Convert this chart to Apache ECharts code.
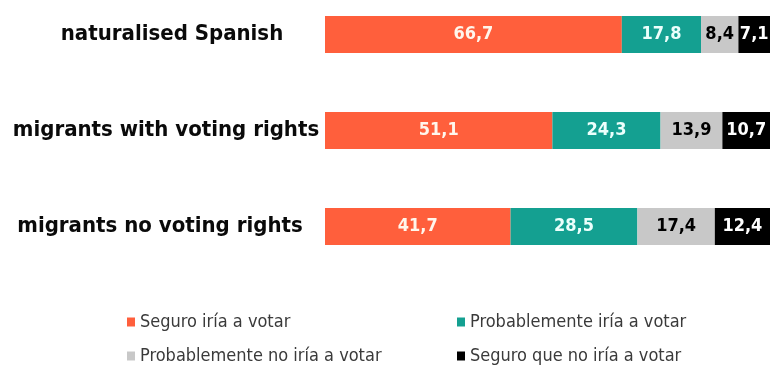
<!DOCTYPE html>
<html>
<head>
<meta charset="utf-8">
<script src="https://cdn.jsdelivr.net/npm/echarts@6/dist/echarts.min.js"></script>
<style>
  html, body { margin: 0; padding: 0; background: #ffffff; }
  #chart { width: 770px; height: 365px; }
</style>
</head>
<body>
<div id="chart"></div>
<script>
// Voting intention by group (percent of each group, sums to 100)
const categories = ['naturalised Spanish', 'migrants with voting rights', 'migrants no voting rights'];
const seriesNames = [
  'Seguro iría a votar',
  'Probablemente iría a votar',
  'Probablemente no iría a votar',
  'Seguro que no iría a votar'
];
const seguroVotar = [66.7, 51.1, 41.7];
const probableVotar = [17.8, 24.3, 28.5];
const probableNoVotar = [8.4, 13.9, 17.4];
const seguroNoVotar = [7.1, 10.7, 12.4];

const values = [seguroVotar, probableVotar, probableNoVotar, seguroNoVotar];
const colors = ['#ff5f3c', '#14a091', '#c8c8c8', '#000000'];
const labelColors = ['#fff6ec', '#ecfffc', '#000000', '#ffffff'];

const FONT = '"DejaVu Sans Condensed", "DejaVu Sans", sans-serif';

const chart = echarts.init(document.getElementById('chart'), null, { renderer: 'canvas' });

// per-category horizontal nudge of the centred axis labels
const labelRich = {
  c0: { padding: [0, 0, 0, 12] },
  c1: { padding: [0, 0, 0, 0] },
  c2: { padding: [0, 12, 0, 0] }
};
Object.keys(labelRich).forEach(k => {
  Object.assign(labelRich[k], { fontFamily: FONT, fontWeight: 'bold', fontSize: 22, color: '#0a0a0a' });
});

const legendPos = [
  { left: 127, top: 313 },
  { left: 457, top: 313 },
  { left: 127, top: 347 },
  { left: 457, top: 347 }
];

option = {
  backgroundColor: '#ffffff',
  animation: false,
  // categories sit on the grid edges (boundaryGap false), so top/bottom are bar centres
  grid: { left: 325, right: 0, top: 34.5, height: 192, containLabel: false },
  xAxis: { type: 'value', min: 0, max: 100, show: false },
  yAxis: {
    type: 'category',
    inverse: true,
    boundaryGap: false,
    data: categories,
    axisLine: { show: false },
    axisTick: { show: false },
    splitLine: { show: false },
    axisLabel: {
      align: 'center',
      margin: 159,
      formatter: (v, i) => '{c' + i + '|' + v + '}',
      rich: labelRich
    }
  },
  legend: seriesNames.map((n, i) => ({
    data: [n],
    left: legendPos[i].left,
    top: legendPos[i].top,
    padding: 0,
    icon: 'rect',
    itemWidth: 8,
    itemHeight: 9,
    selectedMode: false,
    textStyle: { fontFamily: FONT, fontSize: 18, color: '#3a3a3a' }
  })),
  series: seriesNames.map((n, i) => ({
    name: n,
    type: 'bar',
    stack: 'total',
    barWidth: 37,
    data: values[i],
    itemStyle: { color: colors[i] },
    label: {
      show: true,
      position: 'inside',
      color: labelColors[i],
      fontFamily: FONT,
      fontWeight: 'bold',
      fontSize: 18,
      formatter: p => String(p.value).replace('.', ',')
    }
  }))
};

chart.setOption(option);
</script>
</body>
</html>
